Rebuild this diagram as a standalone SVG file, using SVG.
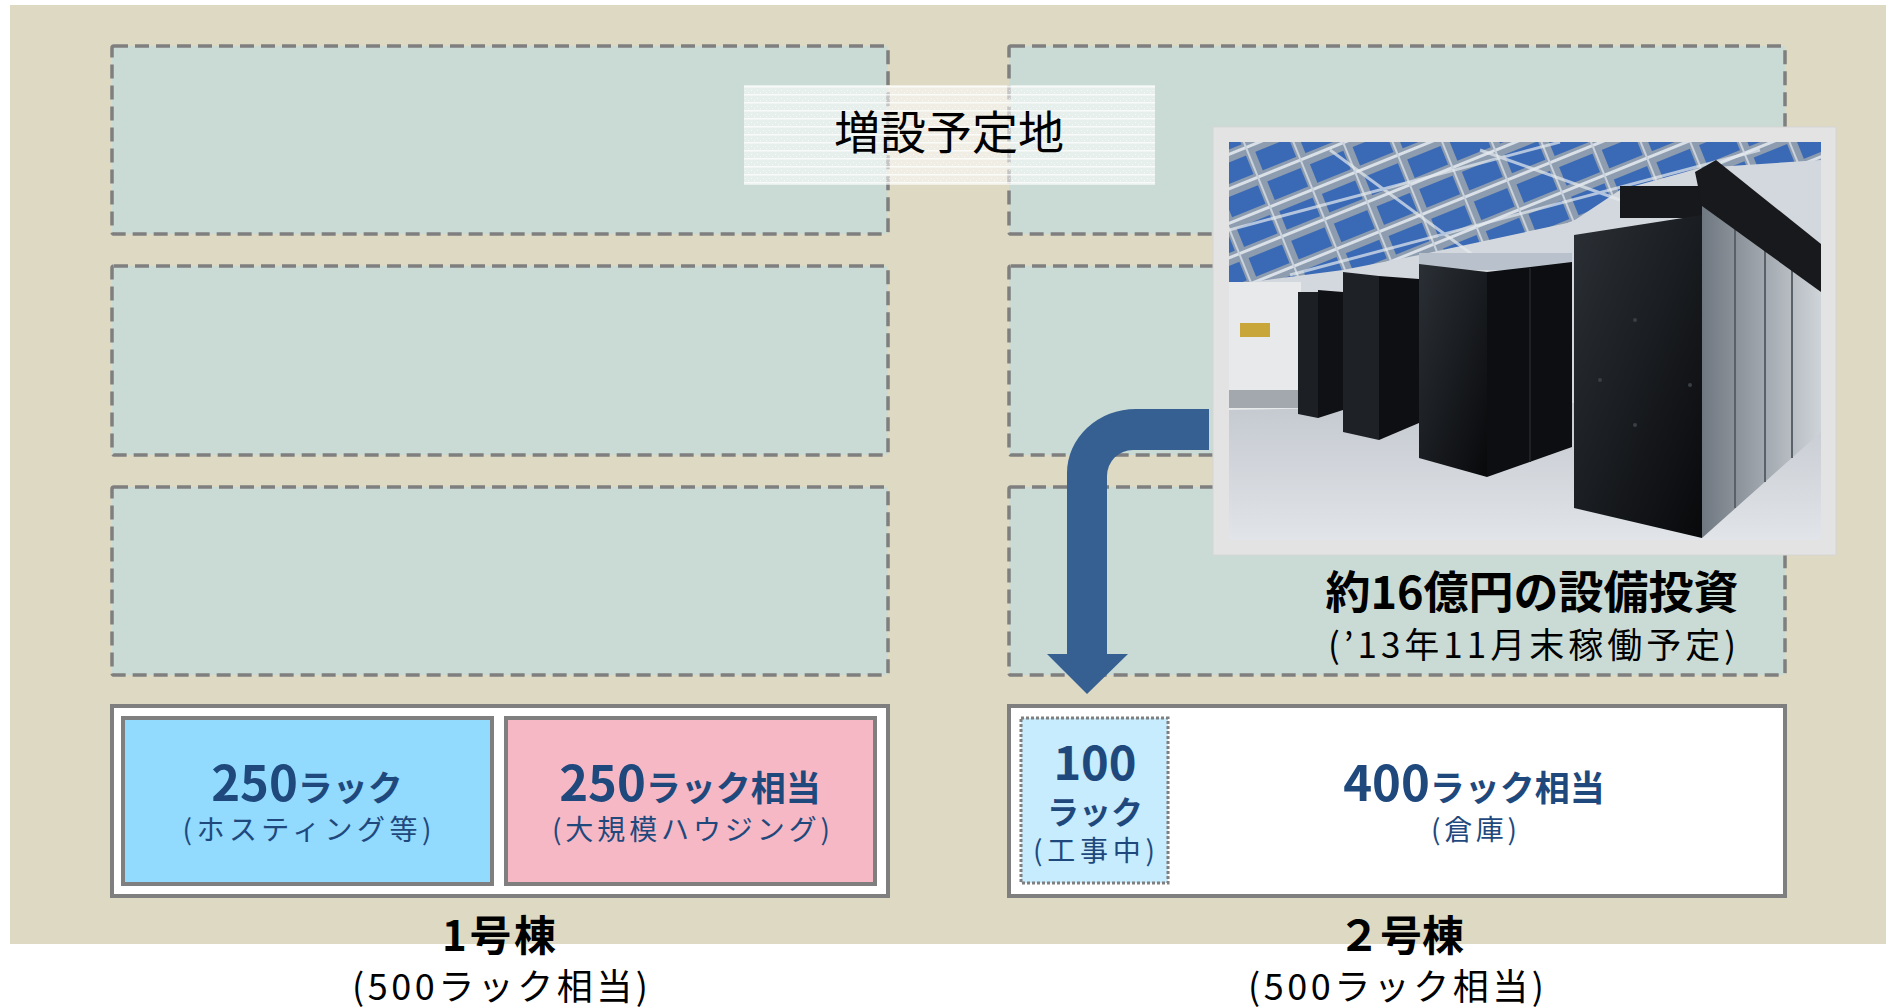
<svg xmlns="http://www.w3.org/2000/svg" width="1886" height="1007" viewBox="0 0 1886 1007">
<defs>
<style>
.zone{fill:#cadbd5;stroke:#7f7f7f;stroke-width:3.5;stroke-dasharray:14 7}
.frame{fill:#ffffff;stroke:#7f7f7f;stroke-width:4}
.cell{stroke:#7f7f7f;stroke-width:4}
.jp{font-family:"Noto Sans CJK JP","Noto Sans",sans-serif}
.b{font-weight:bold}
.blue{fill:#1f497d}
.blk{fill:#000000}
</style>
<pattern id="tex" width="6" height="8" patternUnits="userSpaceOnUse">
<rect width="6" height="8" fill="#ffffff" fill-opacity="0.55"/>
<rect y="6" width="6" height="1.5" fill="#ffffff" fill-opacity="0.75"/>
<rect x="1" y="2" width="1" height="1" fill="#ffffff" fill-opacity="0.6"/>
<rect x="4" y="4" width="1" height="1" fill="#ffffff" fill-opacity="0.6"/>
</pattern>
<pattern id="ceilp" width="46" height="32" patternUnits="userSpaceOnUse" patternTransform="rotate(-22)">
<rect width="46" height="32" fill="#8d9cae"/>
<rect x="3" y="3" width="36" height="20" fill="#3a69b5"/>
<rect x="0" y="26" width="46" height="3" fill="#d9e0e8"/>
<rect x="41" y="0" width="2" height="32" fill="#c9d2dc"/>
</pattern>
<linearGradient id="floorG" x1="0" y1="0" x2="0" y2="1">
<stop offset="0" stop-color="#c3c8cf"/><stop offset="1" stop-color="#e1e4e8"/>
</linearGradient>
<linearGradient id="rackG" x1="0" y1="0" x2="1" y2="1">
<stop offset="0" stop-color="#2b3036"/><stop offset="1" stop-color="#08090b"/>
</linearGradient>
<linearGradient id="sideG" x1="0" y1="0" x2="1" y2="0">
<stop offset="0" stop-color="#6f7780"/><stop offset="1" stop-color="#cfd4d9"/>
</linearGradient>
<clipPath id="photoClip"><rect x="1229" y="142" width="592" height="398"/></clipPath>
</defs>

<rect x="10" y="5" width="1876" height="939" fill="#ddd9c3"/>

<g id="zone-l1"><rect class="zone" x="112" y="46" width="776" height="188" rx="2"/></g>
<g id="zone-l2"><rect class="zone" x="112" y="266" width="776" height="189" rx="2"/></g>
<g id="zone-l3"><rect class="zone" x="112" y="487" width="776" height="188" rx="2"/></g>
<g id="zone-r1"><rect class="zone" x="1009" y="46" width="776" height="188" rx="2"/></g>
<g id="zone-r2"><rect class="zone" x="1009" y="266" width="776" height="189" rx="2"/></g>
<g id="zone-r3"><rect class="zone" x="1009" y="487" width="776" height="188" rx="2"/></g>

<g id="label-planned">
<rect x="744" y="85" width="411" height="100" fill="url(#tex)"/>
<text class="jp blk" x="949" y="149" font-size="46" text-anchor="middle">増設予定地</text>
</g>

<g id="photo">
<rect x="1213" y="127" width="623" height="428" fill="#e3e3e3" stroke="#d6d6d6" stroke-width="1"/>
<g clip-path="url(#photoClip)">
<rect x="1229" y="142" width="592" height="398" fill="#d3d8de"/>
<polygon points="1229,142 1821,142 1821,160 1700,168 1620,190 1572,222 1419,255 1343,270 1229,285" fill="url(#ceilp)"/>
<g stroke="#e6ebf0" stroke-width="3" opacity="0.7">
<line x1="1229" y1="230" x2="1560" y2="142"/>
<line x1="1290" y1="275" x2="1760" y2="150"/>
<line x1="1330" y1="150" x2="1480" y2="260"/>
<line x1="1480" y1="150" x2="1620" y2="200"/>
</g>
<rect x="1229" y="282" width="72" height="130" fill="#e7e9eb"/>
<rect x="1229" y="390" width="72" height="18" fill="#a3a8ae"/>
<rect x="1240" y="323" width="30" height="14" fill="#c9a63a"/>
<polygon points="1229,410 1821,398 1821,540 1229,540" fill="url(#floorG)"/>
<polygon points="1298,292 1318,292 1318,418 1298,414" fill="#1c1f23"/>
<polygon points="1318,290 1343,292 1343,410 1318,418" fill="#0f1114"/>
<polygon points="1343,272 1379,276 1379,440 1343,432" fill="#1e2126"/>
<polygon points="1379,276 1419,279 1419,423 1379,440" fill="#0d0f12"/>
<rect x="1419" y="253" width="153" height="17" fill="#b9c2cc"/>
<polygon points="1419,264 1487,272 1487,477 1419,458" fill="url(#rackG)"/>
<polygon points="1487,272 1572,262 1572,447 1487,477" fill="#0c0e11"/>
<line x1="1530" y1="268" x2="1530" y2="462" stroke="#1d2025" stroke-width="2"/>
<polygon points="1702,200 1821,285 1821,432 1702,538" fill="url(#sideG)"/>
<g stroke="#5a6169" stroke-width="2">
<line x1="1735" y1="224" x2="1735" y2="508"/>
<line x1="1765" y1="245" x2="1765" y2="482"/>
<line x1="1792" y1="265" x2="1792" y2="458"/>
</g>
<rect x="1620" y="186" width="82" height="32" fill="#16181b"/>
<polygon points="1574,235 1702,215 1702,538 1574,508" fill="url(#rackG)"/>
<polygon points="1695,172 1716,160 1821,244 1821,292 1702,206" fill="#17191c"/>
<g fill="#3a3f45">
<circle cx="1635" cy="320" r="2"/><circle cx="1600" cy="380" r="2"/><circle cx="1690" cy="385" r="2"/><circle cx="1635" cy="425" r="2"/>
</g>
</g>
</g>

<g id="connectors">
<path d="M1209 409 H1136 A69 64 0 0 0 1067 473 V654 H1047 L1087 694 L1128 654 H1107 V476 A26 26 0 0 1 1133 450 H1209 Z" fill="#366092"/>
</g>

<g id="caption-invest">
<text class="jp b blk" x="1532" y="609" font-size="45" text-anchor="middle">約16億円の設備投資</text>
<text class="jp blk" x="1532" y="658" font-size="35" text-anchor="middle" textLength="408" lengthAdjust="spacing">(’13年11月末稼働予定)</text>
</g>

<g id="building1">
<rect class="frame" x="112" y="706" width="776" height="190"/>
</g>
<g id="b1-hosting">
<rect class="cell" x="123" y="718" width="369" height="166" fill="#92dafe"/>
<text class="jp b blue" x="307" y="801" text-anchor="middle"><tspan font-size="49">250</tspan><tspan font-size="35">ラック</tspan></text>
<text class="jp blue" x="307" y="840" font-size="28" text-anchor="middle" textLength="249" lengthAdjust="spacing">(ホスティング等)</text>
</g>
<g id="b1-housing">
<rect class="cell" x="506" y="718" width="369" height="166" fill="#f6b8c4"/>
<text class="jp b blue" x="690" y="801" text-anchor="middle"><tspan font-size="49">250</tspan><tspan font-size="35">ラック相当</tspan></text>
<text class="jp blue" x="691" y="840" font-size="28" text-anchor="middle" textLength="278" lengthAdjust="spacing">(大規模ハウジング)</text>
</g>
<g id="label-b1">
<text class="jp b blk" x="499" y="951" font-size="42" text-anchor="middle" textLength="114" lengthAdjust="spacing">1号棟</text>
<text class="jp blk" x="500" y="1000" font-size="36" text-anchor="middle" textLength="296" lengthAdjust="spacing">(500ラック相当)</text>
</g>

<g id="building2">
<rect class="frame" x="1009" y="706" width="776" height="190"/>
</g>
<g id="b2-construction">
<rect x="1021" y="718" width="147" height="165" fill="#c6ecfd" stroke="#7f7f7f" stroke-width="3" stroke-dasharray="3 2"/>
<text class="jp b blue" x="1095" y="780" font-size="47" text-anchor="middle">100</text>
<text class="jp b blue" x="1095" y="824" font-size="32" text-anchor="middle">ラック</text>
<text class="jp blue" x="1094" y="861" font-size="28" text-anchor="middle" textLength="122" lengthAdjust="spacing">(工事中)</text>
</g>
<g id="b2-warehouse">
<text class="jp b blue" x="1474" y="801" text-anchor="middle"><tspan font-size="49">400</tspan><tspan font-size="35">ラック相当</tspan></text>
<text class="jp blue" x="1474" y="840" font-size="28" text-anchor="middle" textLength="86" lengthAdjust="spacing">(倉庫)</text>
</g>
<g id="label-b2">
<text class="jp b blk" x="1401" y="951" font-size="42" text-anchor="middle">２号棟</text>
<text class="jp blk" x="1396" y="1000" font-size="36" text-anchor="middle" textLength="296" lengthAdjust="spacing">(500ラック相当)</text>
</g>
</svg>
